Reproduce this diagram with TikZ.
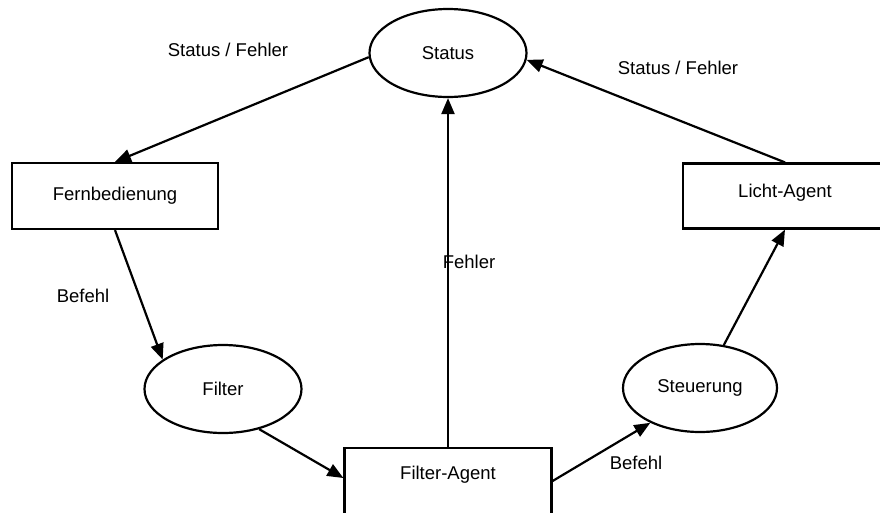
\documentclass[tikz,border=0pt]{standalone}
\usepackage{fontspec}
\setmainfont{Liberation Sans}
\usetikzlibrary{arrows.meta,shapes.geometric}
\begin{document}
\begin{tikzpicture}[x=1pt,y=-1pt,
  every node/.style={font=\fontsize{18.5}{22}\selectfont},
  oval/.style={draw,ellipse,line width=2.2pt,minimum width=157pt,minimum height=88pt,inner sep=0pt},
  box/.style={draw,rectangle,line width=2.2pt,minimum height=66pt,inner sep=0pt},
  conn/.style={line width=2.2pt,-{Triangle[length=16pt,width=13pt]}},
  lbl/.style={inner sep=0pt}]
\clip (0,0) rectangle (880,512);
\node[oval] (status) at (448,53) {Status};
\node[box,minimum width=206pt] (fern) at (115,196) {Fernbedienung};
\node[oval] (filter) at (223,389) {Filter};
\node[box,minimum width=207pt] (fagent) at (448,481) {};
\node at (448,475) {Filter-Agent};
\node[oval,minimum width=154pt] (steu) at (700,388) {Steuerung};
\node[box,minimum width=204pt,minimum height=65pt] (licht) at (785,196) {};
\node at (785,193) {Licht-Agent};
\draw[conn] (status.183) -- (fern.north);
\draw[conn] (fern.south) -- (filter.154);
\draw[conn] (filter.-48) -- ([yshift=3pt]fagent.west);
\draw[conn] (fagent.north) -- (status.south);
\draw[conn] (fagent.east) -- (steu.215);
\draw[conn] (steu.61) -- (licht.south);
\draw[conn] (licht.north) -- (status.-5);
\node[lbl] (l1) at (228,50) {Status / Fehler};
\node[lbl] (l2) at (678,68) {Status / Fehler};
\node[lbl] (l3) at (83,296) {Befehl};
\node[lbl] (l4) at (469,262) {Fehler};
\node[lbl] (l5) at (636,463) {Befehl};
\end{tikzpicture}
\end{document}
